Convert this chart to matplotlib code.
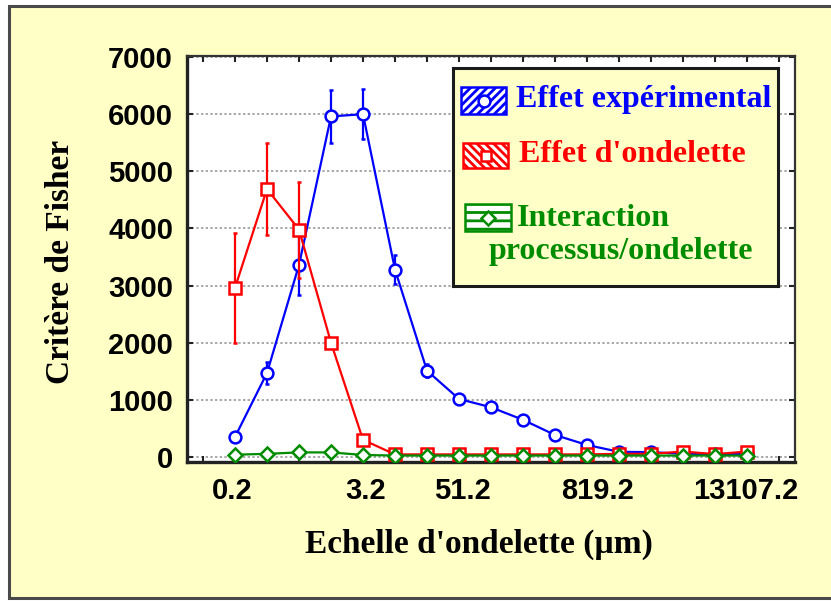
import matplotlib
matplotlib.use("Agg")
import matplotlib.pyplot as plt
from matplotlib.patches import Rectangle
from matplotlib.lines import Line2D

# Wavelet scales (µm) and Fisher criterion for each factor
scales = ["0.2", "0.4", "0.8", "1.6", "3.2", "6.4", "12.8", "25.6", "51.2",
          "102.4", "204.8", "409.6", "819.2", "1638.4", "3276.8", "6553.6", "13107.2"]
effet_exp = [350, 1470, 3360, 5960, 6000, 3280, 1510, 1015, 870, 650, 385, 210, 90, 85, 55, 50, 55]
effet_exp_err = [0, 190, 520, 460, 440, 260, 110, 0, 0, 0, 0, 0, 0, 0, 0, 0, 0]
effet_ond = [2960, 4690, 3980, 2000, 300, 45, 45, 45, 45, 45, 45, 45, 55, 55, 95, 50, 95]
effet_ond_err = [960, 800, 840, 60, 0, 0, 0, 0, 0, 0, 0, 0, 0, 0, 0, 0, 0]
interaction = [40, 55, 80, 80, 35, 25, 25, 25, 25, 25, 25, 25, 25, 25, 25, 25, 25]

# Labelled scales on the x axis and where their labels sit
xlabels = ["0.2", "3.2", "51.2", "819.2", "13107.2"]
xlabel_pos = [-0.1, 4.07, 7.1, 11.33, 15.97]
yticks = [0, 1000, 2000, 3000, 4000, 5000, 6000, 7000]

BLUE = "#0000FF"
RED = "#FF0000"
GREEN = "#008C00"
PAGE = "#FFFFC6"
SERIF = ["Liberation Serif", "DejaVu Serif"]
SANS = ["Liberation Sans", "DejaVu Sans"]

W, H = 831, 601
fig = plt.figure(figsize=(W / 100, H / 100), dpi=100, facecolor="white")

# page background with its frame
fig.patches.append(Rectangle((9 / W, 3 / H), 1.2, 592 / H, transform=fig.transFigure,
                             facecolor=PAGE, edgecolor="#4A4A4A", linewidth=2.2, zorder=-10))

ax = fig.add_axes([187 / W, 1 - 462 / H, 608 / W, 406 / H])
ax.set_facecolor("white")
x = list(range(len(scales)))

for yv in yticks:
    ax.axhline(yv, color="#A8A8A8", linewidth=1.4, linestyle=(0, (1.2, 1.2)), zorder=0)

common = dict(linewidth=1.6, markeredgewidth=1.8, markerfacecolor="white",
              capsize=1.5, capthick=1.5, elinewidth=1.6)
ax.errorbar(x, effet_exp, yerr=effet_exp_err, color=BLUE, marker="o", markersize=8.5,
            zorder=3, **common)
ax.errorbar(x, effet_ond, yerr=effet_ond_err, color=RED, marker="s", markersize=9,
            zorder=4, **common)
ax.plot(x, interaction, color=GREEN, marker="D", markersize=7.5, linewidth=1.6,
        markeredgewidth=1.8, markerfacecolor="white", zorder=5)

ax.set_xlim(-1.5, len(scales) + 0.5)
ax.set_ylim(-88, 7018)

ax.set_yticks(yticks)
ax.set_yticklabels([str(v) for v in yticks], family=SANS, fontweight="bold", fontsize=21)
ax.tick_params(axis="y", direction="in", length=4, width=1.5, left=True, right=True,
               pad=10, color="#222222")

ax.set_xticks(xlabel_pos)
ax.set_xticklabels(xlabels, family=SANS, fontweight="bold", fontsize=21)
ax.tick_params(axis="x", which="major", length=0, pad=11)
ax.set_xticks(range(-1, len(scales) + 1), minor=True)
ax.tick_params(axis="x", which="minor", direction="in", length=4, width=1.5,
               top=True, bottom=True, color="#222222")

for side in ["left", "bottom"]:
    ax.spines[side].set_linewidth(2.4)
    ax.spines[side].set_color("#222222")
for side in ["top", "right"]:
    ax.spines[side].set_linewidth(1.6)
    ax.spines[side].set_color("#333333")

ax.set_ylabel("Critère de Fisher", family=SERIF, fontweight="bold", fontsize=24)
ax.yaxis.set_label_coords(-0.183, 0.493)
ax.set_xlabel("Echelle d'ondelette (µm)", family=SERIF, fontweight="bold", fontsize=24)
ax.xaxis.set_label_coords(0.48, -0.165)

# legend panel
plt.rcParams["hatch.linewidth"] = 2.0
lg = fig.add_axes([453 / W, 1 - 286 / H, 325 / W, 218 / H])
lg.set_xlim(0, 325)
lg.set_ylim(218, 0)
lg.set_xticks([])
lg.set_yticks([])
lg.set_facecolor("#FFFFC8")
for s in lg.spines.values():
    s.set_linewidth(2.2)
    s.set_color("#1A1A1A")
lg.set_zorder(10)

entries = [
    (BLUE, "////", "o", 8.5, (8, 19, 45, 27), [("Effet expérimental", 63, 31)]),
    (RED, "\\\\\\\\", "s", 7.5, (10, 75, 45, 25), [("Effet d'ondelette", 66, 87)]),
    (GREEN, "--", "D", 7.0, (12, 136, 46, 27),
     [("Interaction", 64, 151), ("processus/ondelette", 36, 183)]),
]
for color, hatch, mk, ms, (px, py, pw, ph), texts in entries:
    lg.add_patch(Rectangle((px, py), pw, ph, facecolor="white", edgecolor=color,
                           hatch=hatch, linewidth=1.8))
    lg.add_line(Line2D([px + pw / 2], [py + ph / 2], marker=mk, markersize=ms,
                       markerfacecolor="white", markeredgecolor=color,
                       markeredgewidth=1.8, linestyle="none"))
    for txt, tx, ty in texts:
        lg.text(tx, ty, txt, color=color, family=SERIF, fontweight="bold",
                fontsize=23, ha="left", va="center")

fig.savefig("out.png", dpi=100, facecolor=fig.get_facecolor())
